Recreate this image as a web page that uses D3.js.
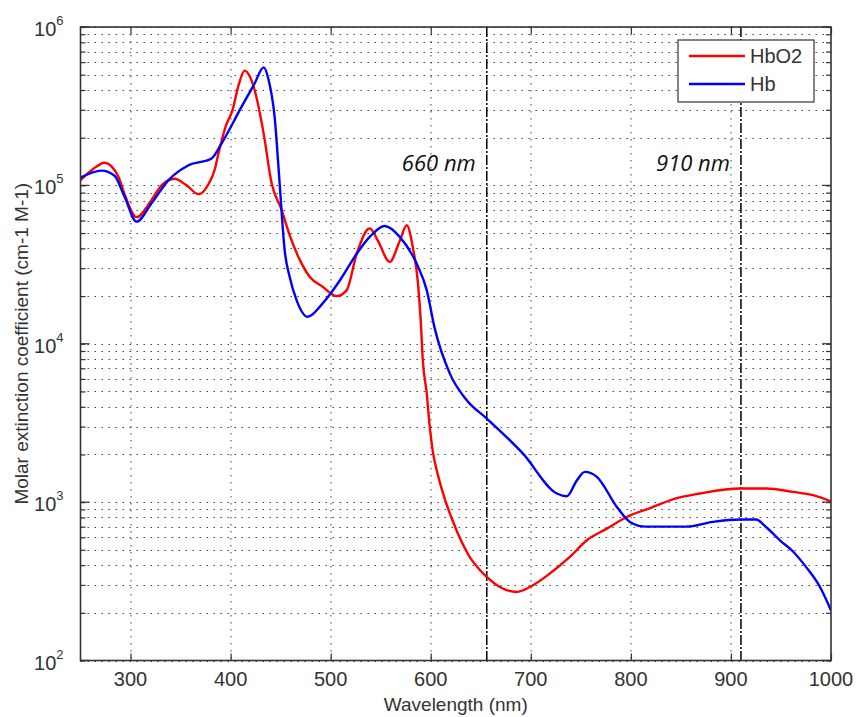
<!DOCTYPE html>
<html>
<head>
<meta charset="utf-8">
<script src="https://cdn.jsdelivr.net/npm/d3@7"></script>
<style>
  body { margin: 0; background: #fff; }
  svg { display: block; }
  .tick-label { font-family: "Liberation Sans", Arial, sans-serif; fill: #333; }
</style>
</head>
<body>
<div id="chart"></div>
<script>
// HbO2 (oxygenated) molar extinction
var hbo2Wave = [250, 262, 274, 288, 294, 306, 321, 331, 344, 356, 368, 378, 384, 388, 395, 402, 408, 414, 419, 424, 433, 441, 451, 459, 470, 479, 492, 506, 516, 526, 539, 547, 559, 569, 576, 582, 587, 590, 592, 596, 599, 602, 607, 614, 622, 631, 640, 648, 656, 669, 686, 699, 719, 739, 756, 776, 795, 820, 845, 869, 909, 935, 962, 982, 1000];
var hbo2Vals = [1.08e5, 1.26e5, 1.39e5, 1.13e5, 8.8e4, 6.3e4, 8.1e4, 1.0e5, 1.1e5, 1.0e5, 8.8e4, 1.02e5, 1.25e5, 1.6e5, 2.35e5, 3.0e5, 4.3e5, 5.3e5, 4.9e5, 4.0e5, 2.13e5, 1.03e5, 7.0e4, 4.85e4, 3.3e4, 2.65e4, 2.29e4, 2.0e4, 2.18e4, 3.7e4, 5.35e4, 4.5e4, 3.29e4, 4.45e4, 5.6e4, 4.1e4, 2.5e4, 1.4e4, 8.0e3, 4.86e3, 3.0e3, 2.1e3, 1.5e3, 1.05e3, 760, 560, 440, 380, 337, 291, 271, 291, 354, 451, 574, 680, 800, 920, 1055, 1133, 1219, 1219, 1160, 1106, 1010];

// Hb (deoxygenated)
var hbWave = [250, 271, 284, 294, 306, 321, 338, 358, 381, 391, 411, 424, 433, 438, 444, 449, 454, 459, 466, 477, 492, 509, 526, 539, 554, 569, 586, 596, 604, 619, 636, 656, 692, 726, 736, 746, 754, 766, 786, 799, 815, 855, 882, 909, 925, 935, 949, 962, 975, 989, 1000];
var hbVals = [1.12e5, 1.24e5, 1.15e5, 8.5e4, 5.9e4, 7.7e4, 1.08e5, 1.34e5, 1.48e5, 1.84e5, 3.14e5, 4.4e5, 5.56e5, 4.63e5, 2.71e5, 1.03e5, 3.9e4, 2.65e4, 1.88e4, 1.48e4, 1.8e4, 2.5e4, 3.7e4, 4.73e4, 5.54e4, 4.73e4, 3.2e4, 2.18e4, 1.25e4, 6.5e3, 4.4e3, 3.37e3, 2.03e3, 1133, 1089, 1370, 1552, 1445, 933, 750, 700, 700, 750, 776, 776, 697, 574, 488, 390, 291, 207];

var seriesNames = ["HbO2", "Hb"];
var seriesColors = ["#ff0000", "#0000ff"];

var xTicks = [300, 400, 500, 600, 700, 800, 900, 1000];
var yExponents = [2, 3, 4, 5, 6];

// marker lines: where they are drawn, and what they say
var markerWave = [656, 910];
var markerText = ["660 nm", "910 nm"];

var width = 857, height = 717;
var margin = {top: 27, right: 26, bottom: 56.5, left: 80.5};
var plotW = width - margin.left - margin.right;
var plotH = height - margin.top - margin.bottom;

var svg = d3.select("#chart").append("svg")
    .attr("width", width)
    .attr("height", height);

var g = svg.append("g")
    .attr("transform", "translate(" + margin.left + "," + margin.top + ")");

var x = d3.scaleLinear().domain([250, 1000]).range([0, plotW]);
var y = d3.scaleLog().domain([1e2, 1e6]).range([plotH, 0]);

// minor values 1..9 per decade
var yGrid = [];
yExponents.slice(0, -1).forEach(function(e) {
    for (var k = 1; k <= 9; k++) yGrid.push(k * Math.pow(10, e));
});
yGrid.push(1e6);

// grid
g.append("g").selectAll("line").data(yGrid).enter().append("line")
    .attr("x1", 0).attr("x2", plotW)
    .attr("y1", function(d) { return Math.round(y(d)) + 0.5; })
    .attr("y2", function(d) { return Math.round(y(d)) + 0.5; })
    .attr("stroke", "#444")
    .attr("stroke-width", 1)
    .attr("stroke-dasharray", "1.5,5.5");

g.append("g").selectAll("line").data(xTicks.slice(0, -1)).enter().append("line")
    .attr("x1", function(d) { return Math.round(x(d)) + 0.5; })
    .attr("x2", function(d) { return Math.round(x(d)) + 0.5; })
    .attr("y1", 0).attr("y2", plotH)
    .attr("stroke", "#444")
    .attr("stroke-width", 1)
    .attr("stroke-dasharray", "1.5,5.5");

// axes with inward ticks (matlab style)
var fmtNone = function() { return ""; };
g.append("g").attr("transform", "translate(0," + plotH + ")")
    .call(d3.axisBottom(x).tickValues(xTicks).tickSizeInner(-7).tickSizeOuter(0).tickFormat(fmtNone));
g.append("g")
    .call(d3.axisTop(x).tickValues(xTicks).tickSizeInner(-7).tickSizeOuter(0).tickFormat(fmtNone));
g.append("g")
    .call(d3.axisLeft(y).tickValues(yGrid).tickSizeInner(-5).tickSizeOuter(0).tickFormat(fmtNone));
g.append("g").attr("transform", "translate(" + plotW + ",0)")
    .call(d3.axisRight(y).tickValues(yGrid).tickSizeInner(-5).tickSizeOuter(0).tickFormat(fmtNone));
g.selectAll(".domain").remove();
g.selectAll(".tick line").attr("stroke", "#333").attr("stroke-width", 1.2);

// longer ticks at decades
[0, plotW].forEach(function(px, i) {
    g.append("g").selectAll("line").data(yExponents).enter().append("line")
        .attr("x1", px).attr("x2", i === 0 ? px + 9 : px - 9)
        .attr("y1", function(d) { return y(Math.pow(10, d)); })
        .attr("y2", function(d) { return y(Math.pow(10, d)); })
        .attr("stroke", "#333").attr("stroke-width", 1.2);
});

// curves
var line = d3.line()
    .x(function(d) { return x(d[0]); })
    .y(function(d) { return y(d[1]); })
    .curve(d3.curveMonotoneX);

var series = [d3.zip(hbo2Wave, hbo2Vals), d3.zip(hbWave, hbVals)];

g.append("defs").append("clipPath").attr("id", "clip")
    .append("rect").attr("width", plotW).attr("height", plotH);

// marker lines
g.append("g").selectAll("line").data(markerWave).enter().append("line")
    .attr("x1", function(d) { return x(d); })
    .attr("x2", function(d) { return x(d); })
    .attr("y1", 0).attr("y2", plotH)
    .attr("stroke", "#000")
    .attr("stroke-width", 1.5)
    .attr("stroke-dasharray", "10,2,2,2");

g.append("g").attr("clip-path", "url(#clip)").selectAll("path").data(series).enter().append("path")
    .attr("d", line)
    .attr("fill", "none")
    .attr("stroke", function(d, i) { return seriesColors[i]; })
    .attr("stroke-width", 2.4)
    .attr("stroke-linejoin", "round");

g.append("g").selectAll("text").data(markerText).enter().append("text")
    .attr("x", function(d, i) { return x(markerWave[i]) - 11; })
    .attr("y", 144)
    .attr("text-anchor", "end")
    .style("font-family", "'Open Sans', sans-serif")
    .style("font-style", "italic")
    .style("font-size", "22px")
    .attr("fill", "#111")
    .text(function(d) { return d; });

// frame
g.append("rect")
    .attr("width", plotW).attr("height", plotH)
    .attr("fill", "none")
    .attr("stroke", "#333")
    .attr("stroke-width", 1.6);

// tick labels
g.append("g").selectAll("text").data(xTicks).enter().append("text")
    .attr("class", "tick-label")
    .attr("x", function(d) { return x(d); })
    .attr("y", plotH + 25)
    .attr("text-anchor", "middle")
    .style("font-size", "20px")
    .text(function(d) { return d; });

var yl = g.append("g").selectAll("text").data(yExponents).enter().append("text")
    .attr("class", "tick-label")
    .attr("x", -17)
    .attr("y", function(d) { return y(Math.pow(10, d)) + 9; })
    .attr("text-anchor", "end")
    .style("font-size", "20px");
yl.append("tspan").text("10");
yl.append("tspan").attr("dy", -11).style("font-size", "13px").text(function(d) { return d; });

// axis titles
svg.append("text")
    .attr("class", "tick-label")
    .attr("x", margin.left + plotW / 2)
    .attr("y", height - 6)
    .attr("text-anchor", "middle")
    .style("font-size", "19px")
    .text("Wavelength (nm)");

svg.append("text")
    .attr("class", "tick-label")
    .attr("transform", "translate(28," + (margin.top + plotH / 2) + ") rotate(-90)")
    .attr("text-anchor", "middle")
    .style("font-size", "19px")
    .text("Molar extinction coefficient (cm-1 M-1)");

// legend
var lg = g.append("g").attr("transform", "translate(" + (plotW - 153) + ",13)");
lg.append("rect")
    .attr("width", 136).attr("height", 62)
    .attr("fill", "#fff")
    .attr("stroke", "#333").attr("stroke-width", 1.2);
var items = lg.selectAll("g.item").data(seriesNames).enter().append("g")
    .attr("transform", function(d, i) { return "translate(0," + (16 + i * 28) + ")"; });
items.append("line")
    .attr("x1", 11).attr("x2", 67)
    .attr("stroke", function(d, i) { return seriesColors[i]; })
    .attr("stroke-width", 2.4);
items.append("text")
    .attr("class", "tick-label")
    .attr("x", 72).attr("y", 7)
    .style("font-size", "20px")
    .text(function(d) { return d; });
</script>
</body>
</html>
